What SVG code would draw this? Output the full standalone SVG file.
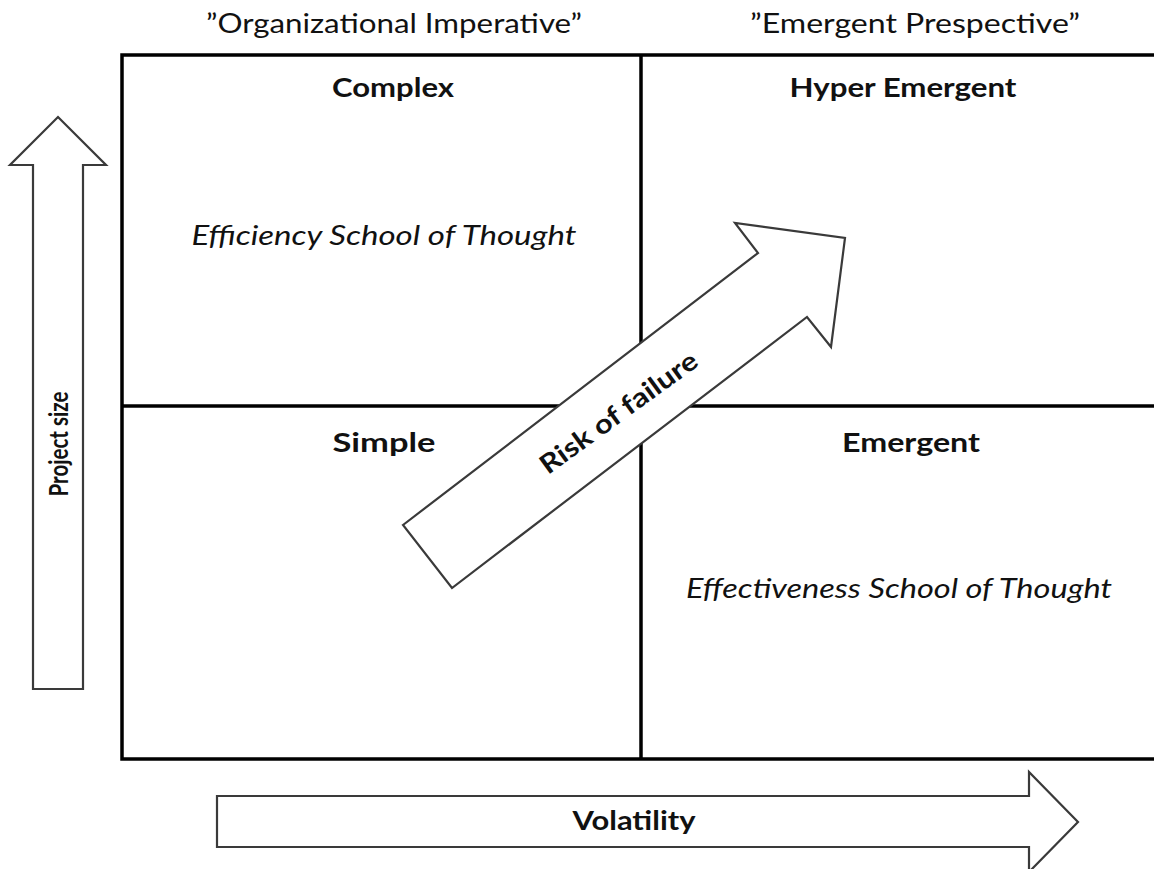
<svg xmlns="http://www.w3.org/2000/svg" width="1154" height="869" viewBox="0 0 1154 869">
  <style>
    .grid { fill: none; stroke: #000; stroke-width: 3.5; }
    .arrow { fill: #fff; stroke: #3a3a3a; stroke-width: 2.2; stroke-linejoin: miter; }
    .t { font-family: Lato, "Open Sans", "Liberation Sans", sans-serif; fill: #111; }
    .b { font-weight: bold; font-size: 26.5px; }
    .i { font-style: italic; font-size: 27px; }
    .h { font-size: 26px; }
  </style>

  <!-- quadrant frame -->
  <g id="grid">
    <path class="grid" d="M1160,55 H122 V759 H1160"/>
    <line class="grid" x1="641" y1="55" x2="641" y2="759"/>
    <line class="grid" x1="122" y1="406" x2="1160" y2="406"/>
  </g>

  <!-- column headings -->
  <g id="heading-left">
    <text class="t h" x="394" y="33" text-anchor="middle" textLength="376" lengthAdjust="spacingAndGlyphs">”Organizational Imperative”</text>
  </g>
  <g id="heading-right">
    <text class="t h" x="915" y="33" text-anchor="middle" textLength="330" lengthAdjust="spacingAndGlyphs">”Emergent Prespective”</text>
  </g>

  <!-- quadrants -->
  <g id="complex">
    <text class="t b" x="393" y="97" text-anchor="middle" textLength="122" lengthAdjust="spacingAndGlyphs">Complex</text>
    <text class="t i" x="384" y="245" text-anchor="middle" textLength="385" lengthAdjust="spacingAndGlyphs">Efficiency School of Thought</text>
  </g>
  <g id="hyper-emergent">
    <text class="t b" x="903" y="97" text-anchor="middle" textLength="227" lengthAdjust="spacingAndGlyphs">Hyper Emergent</text>
  </g>
  <g id="simple">
    <text class="t b" x="384" y="452" text-anchor="middle" textLength="103" lengthAdjust="spacingAndGlyphs">Simple</text>
  </g>
  <g id="emergent">
    <text class="t b" x="911" y="452" text-anchor="middle" textLength="138" lengthAdjust="spacingAndGlyphs">Emergent</text>
    <text class="t i" x="899" y="598" text-anchor="middle" textLength="426" lengthAdjust="spacingAndGlyphs">Effectiveness School of Thought</text>
  </g>

  <!-- axis and trend arrows -->
  <g id="connectors">
    <g id="project-size">
      <polygon class="arrow" points="33,689 33,165 10,165 58,117 106,165 83,165 83,689"/>
      <text class="t b" transform="translate(68,444) rotate(-90)" text-anchor="middle" font-size="28" textLength="105" lengthAdjust="spacingAndGlyphs">Project size</text>
    </g>
    <g id="volatility">
      <polygon class="arrow" points="217,796 1029,796 1029,772 1078,822 1029,872 1029,847 217,847"/>
      <text class="t b" x="634" y="830" text-anchor="middle" textLength="123" lengthAdjust="spacingAndGlyphs">Volatility</text>
    </g>
    <g id="risk-of-failure">
      <polygon class="arrow" points="403,525 758,253 735,223 845,238 831,347 807,317 452,588"/>
      <text class="t b" transform="translate(624,420) rotate(-36)" text-anchor="middle" font-size="28" textLength="188" lengthAdjust="spacingAndGlyphs">Risk of failure</text>
    </g>
  </g>
</svg>
